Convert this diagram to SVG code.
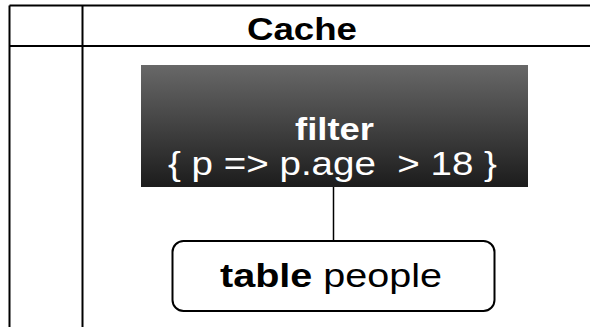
<svg xmlns="http://www.w3.org/2000/svg" width="590" height="327" viewBox="0 0 590 327">
<defs>
<linearGradient id="g" x1="0" y1="0" x2="0" y2="1">
<stop offset="0" stop-color="#686868"/>
<stop offset="1" stop-color="#1c1c1c"/>
</linearGradient>
<style>
.grid{stroke:#000;stroke-width:2;fill:none}
text{font-family:"Liberation Sans",Arial,sans-serif;text-anchor:middle}
.b{font-weight:bold}
</style>
</defs>
<rect width="590" height="327" fill="#fff"/>
<g id="table">
<line class="grid" x1="9.5" y1="5.5" x2="590" y2="5.5"/>
<line class="grid" x1="9.5" y1="46" x2="590" y2="46"/>
<line class="grid" x1="9.5" y1="5.5" x2="9.5" y2="327"/>
<line class="grid" x1="82.5" y1="5.5" x2="82.5" y2="327"/>
<text x="302" y="40" class="b" font-size="32" textLength="110" lengthAdjust="spacingAndGlyphs">Cache</text>
</g>
<g id="connectors">
<line x1="333.5" y1="187" x2="333.5" y2="241" stroke="#000" stroke-width="1.5"/>
</g>
<g id="filter">
<rect x="141" y="65" width="387" height="122" fill="url(#g)"/>
<text x="334.5" y="140" class="b" font-size="31" fill="#fff" textLength="79" lengthAdjust="spacingAndGlyphs">filter</text>
<text x="332.5" y="175" font-size="34" fill="#fff" xml:space="preserve" textLength="329" lengthAdjust="spacingAndGlyphs">{ p =&gt; p.age  &gt; 18 }</text>
</g>
<g id="people">
<rect x="172.5" y="241" width="322" height="70" rx="11" fill="#fff" stroke="#000" stroke-width="2"/>
<text x="331" y="287" font-size="34" textLength="222" lengthAdjust="spacingAndGlyphs"><tspan class="b">table</tspan> people</text>
</g>
</svg>
